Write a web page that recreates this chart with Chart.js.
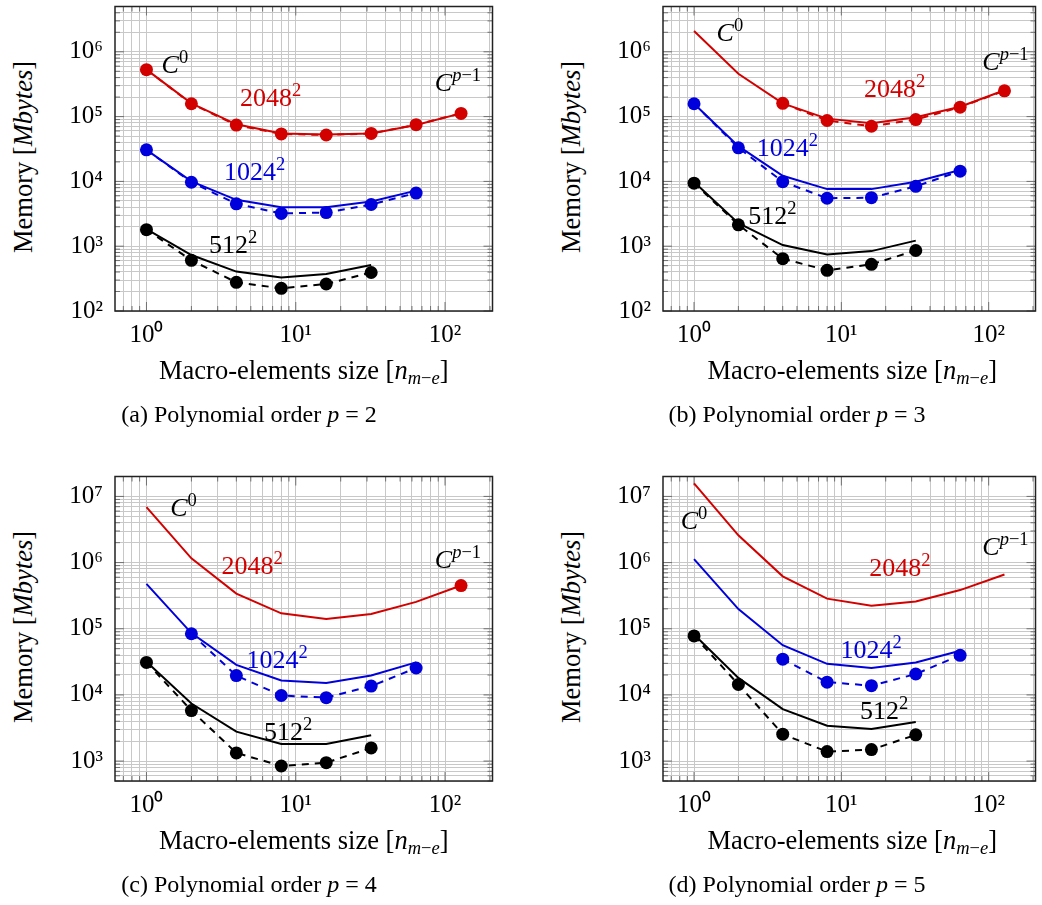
<!DOCTYPE html>
<html>
<head>
<meta charset="utf-8">
<title>Memory vs macro-element size</title>
<script src="https://cdn.jsdelivr.net/npm/chart.js@4.4.1/dist/chart.umd.min.js"></script>
<style>
  html, body { margin: 0; padding: 0; background: #fff; }
  body {
    width: 1042px; height: 905px; position: relative; overflow: hidden;
    font-family: "Liberation Serif", "Times New Roman", serif; color: #000;
  }
  canvas { position: absolute; }
  .xtitle, .caption {
    position: absolute; line-height: 26px;
    white-space: nowrap; transform: translateX(-50%);
  }
  .xtitle { font-size: 26.5px; }
  .caption { font-size: 24px; }
  .ytitle {
    position: absolute; font-size: 26.5px; line-height: 26px; white-space: nowrap;
    transform: translate(-50%, -50%) rotate(-90deg);
  }
  .sub { font-size: 18.5px; position: relative; top: 5px; }
</style>
</head>
<body>
<script>
(function () {
  // ---- data ----
  const SIZES_2048 = [1, 2, 4, 8, 16, 32, 64, 128];
  const SIZES_1024 = [1, 2, 4, 8, 16, 32, 64];
  const SIZES_512 = [1, 2, 4, 8, 16, 32];

  const X_TICKS = [1, 10, 100];
  const Y_TICKS_TOP = [1e2, 1e3, 1e4, 1e5, 1e6];
  const Y_TICKS_BOTTOM = [1e3, 1e4, 1e5, 1e6, 1e7];

  // (a) p = 2
  const A_2048_SOLID = [5.3e5, 1.6e5, 7.6e4, 5.5e4, 5.3e4, 5.5e4, 7.4e4, 1.12e5];
  const A_2048_DASH = [5.3e5, 1.58e5, 7.4e4, 5.4e4, 5.2e4, 5.5e4, 7.5e4, 1.12e5];
  const A_1024_SOLID = [3.07e4, 1.0e4, 5.2e3, 4.0e3, 4.0e3, 4.9e3, 7.2e3];
  const A_1024_DASH = [3.07e4, 9.7e3, 4.5e3, 3.2e3, 3.3e3, 4.4e3, 6.6e3];
  const A_512_SOLID = [1.84e3, 730, 406, 330, 371, 514];
  const A_512_DASH = [1.8e3, 605, 277, 224, 261, 393];

  // (b) p = 3
  const B_2048_SOLID = [2.09e6, 4.57e5, 1.6e5, 9.3e4, 7.9e4, 9.8e4, 1.42e5, 2.55e5];
  const B_2048_DASH_X = [4, 8, 16, 32, 64, 128];
  const B_2048_DASH = [1.6e5, 8.7e4, 7.1e4, 9.0e4, 1.4e5, 2.5e5];
  const B_1024_SOLID = [1.58e5, 3.5e4, 1.22e4, 7.6e3, 7.6e3, 9.9e3, 1.5e4];
  const B_1024_DASH = [1.58e5, 3.3e4, 9.9e3, 5.5e3, 5.6e3, 8.4e3, 1.44e4];
  const B_512_SOLID = [9.8e3, 2.27e3, 1.04e3, 747, 840, 1.22e3];
  const B_512_DASH = [9.4e3, 2.14e3, 641, 425, 525, 859];

  // (c) p = 4
  const C_2048_SOLID = [6.9e6, 1.16e6, 3.4e5, 1.71e5, 1.41e5, 1.67e5, 2.55e5, 4.5e5];
  const C_2048_DASH_X = [128];
  const C_2048_DASH = [4.5e5];
  const C_1024_SOLID = [4.77e5, 8.6e4, 2.85e4, 1.65e4, 1.52e4, 1.96e4, 3.1e4];
  const C_1024_DASH_X = [2, 4, 8, 16, 32, 64];
  const C_1024_DASH = [8.4e4, 1.96e4, 9.8e3, 9.1e3, 1.36e4, 2.55e4];
  const C_512_SOLID = [3.16e4, 7.4e3, 2.79e3, 1.81e3, 1.81e3, 2.46e3];
  const C_512_DASH = [3.1e4, 5.8e3, 1.33e3, 843, 945, 1.58e3];

  // (d) p = 5
  const D_2048_SOLID = [1.58e7, 2.58e6, 6.2e5, 2.85e5, 2.22e5, 2.58e5, 3.84e5, 6.6e5];
  const D_1024_SOLID = [1.13e6, 1.98e5, 5.65e4, 2.95e4, 2.55e4, 3.1e4, 4.65e4];
  const D_1024_DASH_X = [4, 8, 16, 32, 64];
  const D_1024_DASH = [3.47e4, 1.56e4, 1.38e4, 2.07e4, 3.97e4];
  const D_512_SOLID = [8.2e4, 1.81e4, 6.1e3, 3.43e3, 3.06e3, 3.9e3];
  const D_512_DASH = [7.8e4, 1.44e4, 2.55e3, 1.39e3, 1.49e3, 2.49e3];

  // ---- styling ----
  const RED = "#d30000";
  const BLUE = "#0000dd";
  const BLACK = "#000000";
  const FONT = '"Liberation Serif", "Times New Roman", serif';
  const X_MIN = 0.6156, X_MAX = 207.9;
  const SUPS = { "0": "\u2070", "1": "\u00b9", "2": "\u00b2", "3": "\u00b3", "4": "\u2074",
                 "5": "\u2075", "6": "\u2076", "7": "\u2077" };

  function pts(xs, ys) {
    return xs.map((x, i) => ({ x, y: ys[i] }));
  }
  function solid(xs, ys, color) {
    return { data: pts(xs, ys), borderColor: color, backgroundColor: color,
             borderWidth: 2, pointRadius: 0, tension: 0, fill: false };
  }
  function dashed(xs, ys, color) {
    return { data: pts(xs, ys), borderColor: color, backgroundColor: color,
             borderWidth: 2, borderDash: [7, 6], pointRadius: 6.5, pointBorderWidth: 0,
             pointBackgroundColor: color, tension: 0, fill: false };
  }
  function isPow10(v) {
    const l = Math.log10(v);
    return Math.abs(l - Math.round(l)) < 1e-9;
  }
  function powLabel(v) {
    return "10" + SUPS[String(Math.round(Math.log10(v)))];
  }
  // every 1..9 x 10^e line between min and max (grid=both in the original)
  function gridValues(min, max) {
    const out = [];
    for (let e = Math.floor(Math.log10(min)); e <= Math.ceil(Math.log10(max)); e++) {
      for (let k = 1; k <= 9; k++) {
        const v = k * Math.pow(10, e);
        if (v >= min * 0.9999 && v <= max * 1.0001) out.push(v);
      }
    }
    return out;
  }

  // frame + inward tick marks, like pgfplots
  const framePlugin = {
    id: "frame",
    beforeDatasetsDraw(chart) {
      const { ctx, chartArea: a, scales } = chart;
      ctx.save();
      ctx.strokeStyle = "#707070";
      ctx.lineWidth = 1;
      scales.x.ticks.forEach((t) => {
        const px = scales.x.getPixelForValue(t.value);
        const len = isPow10(t.value) ? 9 : 5;
        ctx.beginPath();
        ctx.moveTo(px, a.bottom); ctx.lineTo(px, a.bottom - len);
        ctx.moveTo(px, a.top); ctx.lineTo(px, a.top + len);
        ctx.stroke();
      });
      scales.y.ticks.forEach((t) => {
        const py = scales.y.getPixelForValue(t.value);
        const len = isPow10(t.value) ? 9 : 5;
        ctx.beginPath();
        ctx.moveTo(a.left, py); ctx.lineTo(a.left + len, py);
        ctx.moveTo(a.right, py); ctx.lineTo(a.right - len, py);
        ctx.stroke();
      });
      ctx.strokeStyle = "#222";
      ctx.lineWidth = 1.5;
      ctx.strokeRect(a.left, a.top, a.right - a.left, a.bottom - a.top);
      ctx.restore();
    },
  };

  // curve labels with superscripts, placed in data coordinates
  const labelPlugin = {
    id: "curveLabels",
    afterDatasetsDraw(chart, args, opts) {
      const { ctx, scales } = chart;
      (opts.items || []).forEach((it) => {
        const px = scales.x.getPixelForValue(it.x);
        const py = scales.y.getPixelForValue(it.y);
        const parts = [];
        it.base.forEach(([t, ital]) => parts.push({ t, font: (ital ? "italic " : "") + "26px " + FONT, dy: 0 }));
        it.sup.forEach(([t, ital]) => parts.push({ t, font: (ital ? "italic " : "") + "18.5px " + FONT, dy: -10 }));
        ctx.save();
        ctx.fillStyle = it.color;
        ctx.textBaseline = "alphabetic";
        let total = 0;
        parts.forEach((p) => { ctx.font = p.font; p.w = ctx.measureText(p.t).width; total += p.w; });
        let cx = px - total / 2;
        const base = py + 8.5;
        parts.forEach((p) => { ctx.font = p.font; ctx.fillText(p.t, cx, base + p.dy); cx += p.w; });
        ctx.restore();
      });
    },
  };

  function makeChart(panel) {
    const canvas = document.createElement("canvas");
    canvas.width = panel.w;
    canvas.height = panel.h;
    canvas.style.left = panel.left + "px";
    canvas.style.top = panel.top + "px";
    document.body.appendChild(canvas);

    const xGrid = gridValues(X_MIN, X_MAX);
    const yGrid = gridValues(panel.yMin, panel.yMax);

    return new Chart(canvas.getContext("2d"), {
      type: "line",
      data: { datasets: panel.datasets },
      plugins: [framePlugin, labelPlugin],
      options: {
        responsive: false,
        animation: false,
        devicePixelRatio: 1,
        layout: { padding: { left: 0, top: 2.5, right: panel.padRight, bottom: 0 } },
        plugins: {
          legend: { display: false },
          tooltip: { enabled: false },
          curveLabels: { items: panel.labels },
        },
        scales: {
          x: {
            type: "logarithmic",
            position: "bottom",
            min: X_MIN,
            max: X_MAX,
            bounds: "data",
            border: { display: false },
            grid: { color: "#c8c8c8", lineWidth: 1, drawTicks: false },
            ticks: {
              autoSkip: false, maxRotation: 0, padding: 9, color: "#000",
              font: { family: FONT, size: 25 },
              callback: (v) => (X_TICKS.some((t) => Math.abs(t - v) < 1e-9) ? powLabel(v) : ""),
            },
            afterBuildTicks: (s) => { s.ticks = xGrid.map((v) => ({ value: v })); },
            afterFit: (s) => { s.height = 49; s.paddingLeft = 0; s.paddingRight = 0; },
          },
          y: {
            type: "logarithmic",
            position: "left",
            min: panel.yMin,
            max: panel.yMax,
            bounds: "data",
            border: { display: false },
            grid: { color: "#c8c8c8", lineWidth: 1, drawTicks: false },
            ticks: {
              autoSkip: false, padding: 12, color: "#000",
              font: { family: FONT, size: 25 },
              callback: (v) => (panel.yTicks.some((t) => Math.abs(t / v - 1) < 1e-9) ? powLabel(v) : ""),
            },
            afterBuildTicks: (s) => { s.ticks = yGrid.map((v) => ({ value: v })); },
            afterFit: (s) => { s.width = 75; s.paddingTop = 0; s.paddingBottom = 0; },
          },
        },
      },
    });
  }

  function addText(cls, html, left, top) {
    const el = document.createElement("div");
    el.className = cls;
    el.innerHTML = html;
    el.style.left = left + "px";
    el.style.top = top + "px";
    document.body.appendChild(el);
  }

  const C0 = { base: [["C", true]], sup: [["0", false]], color: BLACK };
  const CP = { base: [["C", true]], sup: [["p", true], ["\u22121", false]], color: BLACK };
  const L2048 = { base: [["2048", false]], sup: [["2", false]], color: RED };
  const L1024 = { base: [["1024", false]], sup: [["2", false]], color: BLUE };
  const L512 = { base: [["512", false]], sup: [["2", false]], color: BLACK };
  const at = (lbl, x, y) => Object.assign({ x, y }, lbl);

  const PANELS = [
    {
      name: "(a)", p: 2, left: 40, top: 0, w: 460, h: 360, padRight: 7.5,
      yMin: 1e2, yMax: 5e6, yTicks: Y_TICKS_TOP,
      datasets: [
        dashed(SIZES_2048, A_2048_DASH, RED), solid(SIZES_2048, A_2048_SOLID, RED),
        dashed(SIZES_1024, A_1024_DASH, BLUE), solid(SIZES_1024, A_1024_SOLID, BLUE),
        dashed(SIZES_512, A_512_DASH, BLACK), solid(SIZES_512, A_512_SOLID, BLACK),
      ],
      labels: [at(C0, 1.55, 6.4e5), at(L2048, 6.8, 1.95e5), at(L1024, 5.3, 1.4e4),
               at(L512, 3.8, 1.05e3), at(CP, 122, 3.3e5)],
    },
    {
      name: "(b)", p: 3, left: 588, top: 0, w: 454, h: 360, padRight: 0.5,
      yMin: 1e2, yMax: 5e6, yTicks: Y_TICKS_TOP,
      datasets: [
        dashed(B_2048_DASH_X, B_2048_DASH, RED), solid(SIZES_2048, B_2048_SOLID, RED),
        dashed(SIZES_1024, B_1024_DASH, BLUE), solid(SIZES_1024, B_1024_SOLID, BLUE),
        dashed(SIZES_512, B_512_DASH, BLACK), solid(SIZES_512, B_512_SOLID, BLACK),
      ],
      labels: [at(C0, 1.75, 2.0e6), at(L2048, 23, 2.75e5), at(L1024, 4.3, 3.37e4),
               at(L512, 3.4, 2.99e3), at(CP, 130, 7.1e5)],
    },
    {
      name: "(c)", p: 4, left: 40, top: 470, w: 460, h: 360, padRight: 7.5,
      yMin: 5e2, yMax: 2e7, yTicks: Y_TICKS_BOTTOM,
      datasets: [
        dashed(C_2048_DASH_X, C_2048_DASH, RED), solid(SIZES_2048, C_2048_SOLID, RED),
        dashed(C_1024_DASH_X, C_1024_DASH, BLUE), solid(SIZES_1024, C_1024_SOLID, BLUE),
        dashed(SIZES_512, C_512_DASH, BLACK), solid(SIZES_512, C_512_SOLID, BLACK),
      ],
      labels: [at(C0, 1.77, 6.7e6), at(L2048, 5.1, 8.9e5), at(L1024, 7.5, 3.45e4),
               at(L512, 8.9, 2.84e3), at(CP, 122, 1.13e6)],
    },
    {
      name: "(d)", p: 5, left: 588, top: 470, w: 454, h: 360, padRight: 0.5,
      yMin: 5e2, yMax: 2e7, yTicks: Y_TICKS_BOTTOM,
      datasets: [
        solid(SIZES_2048, D_2048_SOLID, RED),
        dashed(D_1024_DASH_X, D_1024_DASH, BLUE), solid(SIZES_1024, D_1024_SOLID, BLUE),
        dashed(SIZES_512, D_512_DASH, BLACK), solid(SIZES_512, D_512_SOLID, BLACK),
      ],
      labels: [at(C0, 1.0, 4.3e6), at(L2048, 25, 8.3e5), at(L1024, 15.9, 4.9e4),
               at(L512, 19.5, 5.8e3), at(CP, 130, 1.77e6)],
    },
  ];

  PANELS.forEach((panel) => {
    makeChart(panel);
    const plotLeft = panel.left + 75;
    const plotRight = panel.left + panel.w - panel.padRight;
    const plotTop = panel.top + 2.5;
    const plotBottom = panel.top + panel.h - 49;
    addText("xtitle", 'Macro-elements size [<i>n</i><span class="sub"><i>m</i>\u2212<i>e</i></span>]',
            (plotLeft + plotRight) / 2, panel.top + 357);
    addText("ytitle", "Memory [<i>Mbytes</i>]", plotLeft - 92, (plotTop + plotBottom) / 2);
    addText("caption", panel.name + " Polynomial order <i>p</i> = " + panel.p,
            panel.left + 209, panel.top + 401);
  });
})();
</script>
</body>
</html>
